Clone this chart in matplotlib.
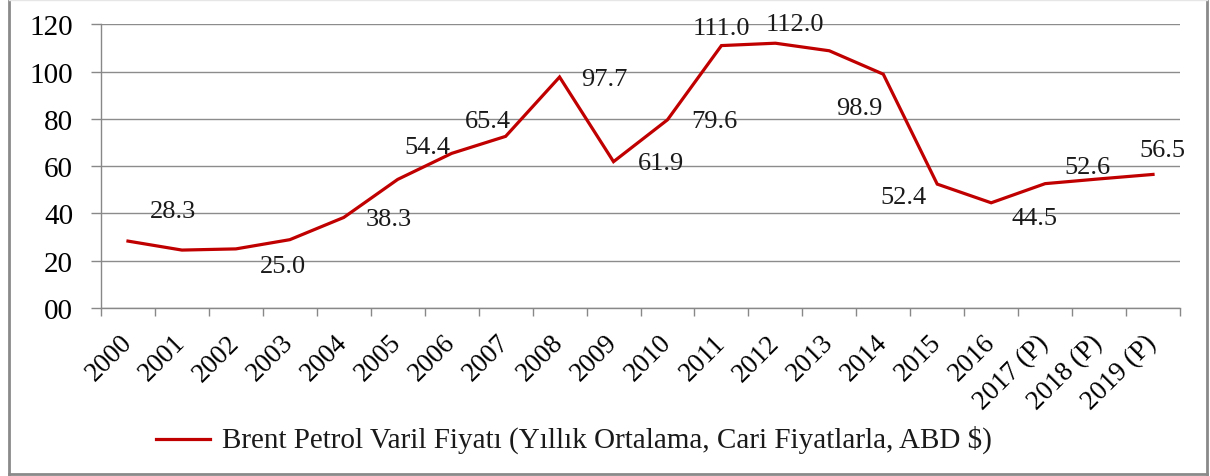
import matplotlib
matplotlib.use("Agg")
import matplotlib.pyplot as plt
from matplotlib.lines import Line2D

categories = ["2000", "2001", "2002", "2003", "2004", "2005", "2006", "2007", "2008",
              "2009", "2010", "2011", "2012", "2013", "2014", "2015", "2016",
              "2017 (P)", "2018 (P)", "2019 (P)"]
prices = [28.3, 24.5, 25.0, 28.9, 38.3, 54.4, 65.4, 72.6, 97.7, 61.9, 79.6,
          111.0, 112.0, 108.8, 98.9, 52.4, 44.5, 52.6, 54.6, 56.5]
labeled_idx = [0, 2, 4, 5, 6, 8, 9, 10, 11, 12, 14, 15, 16, 17, 19]
label_offsets = [(45, 30), (47, -17), (45, -2), (30, 32), (36, 32), (45, -2), (47, -1),
                 (47, -1), (0, 18), (20, 19), (-24, -34), (-34, -13), (43, -15),
                 (42, 17), (9, 24)]
ytick_vals = [0, 20, 40, 60, 80, 100, 120]
ytick_labels = ["00", "20", "40", "60", "80", "100", "120"]
legend_label = "Brent Petrol Varil Fiyatı (Yıllık Ortalama, Cari Fiyatlarla, ABD $)"

plt.rcParams['font.family'] = ['Liberation Serif', 'DejaVu Serif']

W, H = 1210, 477
fig = plt.figure(figsize=(W / 100, H / 100), dpi=100)
ax = fig.add_axes([101 / W, 1 - 309 / H, (1180 - 101) / W, (309 - 25.3) / H])

x = list(range(len(categories)))
ax.plot(x, prices, color="#C00000", lw=2.3, solid_joinstyle="miter")

for i, (dx, dy) in zip(labeled_idx, label_offsets):
    ax.annotate(f"{prices[i]:.1f}", (x[i], prices[i]), xytext=(dx, dy),
                textcoords="offset pixels", ha="center", va="center",
                fontsize=19, color="#1a1a1a")

ax.set_xlim(-0.5, len(categories) - 0.5)
ax.set_ylim(0, 120)
ax.set_yticks(ytick_vals)
ax.set_yticklabels(ytick_labels, fontsize=21)
ax.tick_params(axis="y", length=7, width=1, color="#888888", pad=13)
ax.yaxis.grid(True, color="#8c8c8c", lw=1)
ax.set_axisbelow(True)

ax.set_xticks(x)
ax.set_xticklabels(categories, fontsize=19.5, rotation=45, ha="right",
                   rotation_mode="anchor", va="center")
ax.tick_params(axis="x", which="major", length=0, pad=22)
ax.set_xticks([i - 0.5 for i in range(len(categories) + 1)], minor=True)
ax.tick_params(axis="x", which="minor", length=6, width=1, color="#888888")

for s in ["top", "right"]:
    ax.spines[s].set_visible(False)
for s in ["left", "bottom"]:
    ax.spines[s].set_color("#888888")
    ax.spines[s].set_linewidth(1)

fig.add_artist(Line2D([156 / W, 210 / W], [1 - 440 / H, 1 - 440 / H],
                      color="#C00000", lw=2.3))
fig.text(222 / W, 1 - 440 / H, legend_label, fontsize=21, ha="left", va="center",
         color="#1a1a1a")

# outer frame
fx0, fx1, fy0, fy1 = 9 / W, 1207 / W, 1 - 475 / H, 1 - 0.5 / H
fig.add_artist(Line2D([fx0, fx0], [fy0, fy1], color="#8a8a8a", lw=2))
fig.add_artist(Line2D([fx1, fx1], [fy0, fy1], color="#8a8a8a", lw=2))
fig.add_artist(Line2D([fx0, fx1], [fy0, fy0], color="#8a8a8a", lw=2))
fig.add_artist(Line2D([fx0, fx1], [fy1, fy1], color="#e6e6e6", lw=1))

fig.savefig("out.png", dpi=100)
